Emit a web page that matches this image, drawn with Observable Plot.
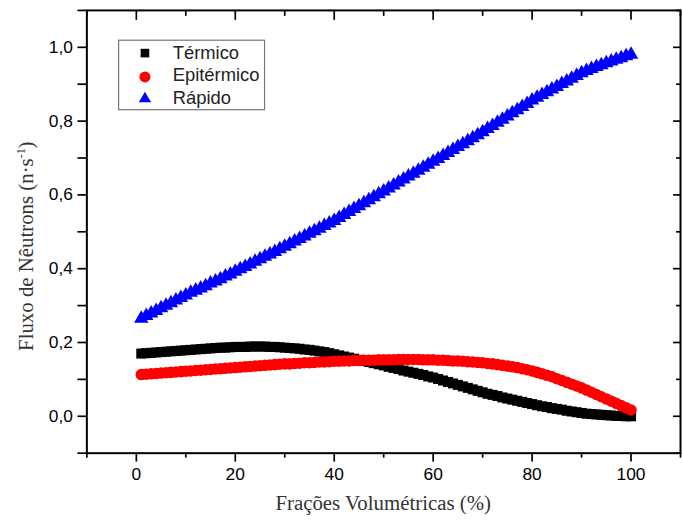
<!DOCTYPE html>
<html>
<head>
<meta charset="utf-8">
<script src="https://cdn.jsdelivr.net/npm/d3@7"></script>
<script src="https://cdn.jsdelivr.net/npm/@observablehq/plot@0.6"></script>
<style>
  html, body { margin: 0; padding: 0; background: white; overflow: hidden; width: 682px; height: 525px; }
  #chart { position: relative; width: 682px; height: 525px; overflow: hidden; }
</style>
</head>
<body>
<div id="chart"></div>
<script>
// ---- Data ----
const fracoes = [
  1,2,3,4,5,6,7,8,9,10,
  11,12,13,14,15,16,17,18,19,20,
  21,22,23,24,25,26,27,28,29,30,
  31,32,33,34,35,36,37,38,39,40,
  41,42,43,44,45,46,47,48,49,50,
  51,52,53,54,55,56,57,58,59,60,
  61,62,63,64,65,66,67,68,69,70,
  71,72,73,74,75,76,77,78,79,80,
  81,82,83,84,85,86,87,88,89,90,
  91,92,93,94,95,96,97,98,99,100
];

const termico = [
  0.170,0.171,0.172,0.173,0.174,0.175,0.176,0.177,0.178,0.179,
  0.180,0.181,0.182,0.183,0.184,0.185,0.186,0.186,0.187,0.188,
  0.188,0.188,0.189,0.189,0.189,0.189,0.188,0.188,0.187,0.186,
  0.185,0.184,0.183,0.181,0.180,0.178,0.176,0.174,0.171,0.168,
  0.165,0.162,0.159,0.156,0.153,0.150,0.147,0.144,0.141,0.138,
  0.134,0.131,0.128,0.124,0.121,0.118,0.115,0.112,0.108,0.105,
  0.101,0.097,0.093,0.089,0.085,0.081,0.077,0.073,0.069,0.065,
  0.061,0.058,0.055,0.051,0.048,0.045,0.042,0.039,0.036,0.033,
  0.030,0.027,0.025,0.022,0.020,0.018,0.015,0.013,0.011,0.009,
  0.007,0.006,0.005,0.004,0.003,0.002,0.001,0.001,0.000,0.000
];

const epitermico = [
  0.113,0.114,0.115,0.116,0.117,0.118,0.119,0.120,0.121,0.122,
  0.123,0.124,0.125,0.126,0.127,0.128,0.129,0.130,0.131,0.132,
  0.133,0.134,0.135,0.136,0.137,0.138,0.139,0.140,0.141,0.142,
  0.142,0.143,0.144,0.145,0.145,0.146,0.147,0.147,0.148,0.149,
  0.149,0.150,0.150,0.151,0.151,0.152,0.152,0.152,0.153,0.153,
  0.153,0.153,0.154,0.154,0.154,0.154,0.154,0.153,0.153,0.153,
  0.152,0.152,0.151,0.150,0.150,0.149,0.148,0.147,0.146,0.145,
  0.143,0.142,0.140,0.138,0.136,0.134,0.132,0.129,0.126,0.123,
  0.119,0.115,0.111,0.107,0.102,0.097,0.092,0.087,0.082,0.077,
  0.071,0.065,0.059,0.053,0.047,0.041,0.035,0.029,0.023,0.017
];

const rapido = [
  0.265,0.272,0.279,0.286,0.293,0.300,0.307,0.314,0.321,0.328,
  0.335,0.341,0.347,0.353,0.360,0.366,0.372,0.379,0.385,0.392,
  0.399,0.405,0.412,0.419,0.426,0.433,0.439,0.446,0.453,0.460,
  0.467,0.474,0.481,0.488,0.495,0.502,0.509,0.516,0.523,0.530,
  0.538,0.546,0.554,0.562,0.570,0.578,0.586,0.594,0.602,0.610,
  0.618,0.626,0.634,0.642,0.650,0.658,0.666,0.674,0.682,0.690,
  0.698,0.706,0.714,0.722,0.730,0.738,0.746,0.754,0.762,0.770,
  0.779,0.787,0.796,0.804,0.813,0.822,0.830,0.839,0.847,0.856,
  0.864,0.871,0.879,0.886,0.893,0.901,0.908,0.915,0.923,0.930,
  0.936,0.942,0.947,0.952,0.957,0.962,0.967,0.971,0.976,0.980
];

const seriesNames = ["Térmico", "Epitérmico", "Rápido"];
const seriesColors = ["#000000", "#ff0000", "#0000ff"];
const seriesSymbols = ["square", "circle", "triangle"];

const xMajorTicks = [0, 20, 40, 60, 80, 100];
const xMinorTicks = [-10, 10, 30, 50, 70, 90, 110];
const yMajorTicks = [0.0, 0.2, 0.4, 0.6, 0.8, 1.0];
const yMinorTicks = [-0.1, 0.1, 0.3, 0.5, 0.7, 0.9, 1.1];

const xTitle = "Frações Volumétricas (%)";
const yTitleMain = "Fluxo de Nêutrons (n·s";
const yTitleSup = "-1";
const yTitleEnd = ")";

// ---- Build tables ----
const tables = [termico, epitermico, rapido].map((vals, i) =>
  fracoes.map((x, j) => ({x, y: vals[j], serie: seriesNames[i]}))
);
const symbolR = [5.7, 5.8, 5.4];

const fmt = d => d.toFixed(1).replace(".", ",");
const tickFont = "Liberation Sans, Arial, Helvetica, sans-serif";
const sw = 1.7;

const chart = Plot.plot({
  width: 687,
  height: 525,
  marginLeft: 87,
  marginRight: 2,
  marginTop: 10,
  marginBottom: 69,
  x: {domain: [-10, 110]},
  y: {domain: [-0.1, 1.1]},
  style: {background: "white", color: "black", fontFamily: tickFont, fontSize: "17px", overflow: "visible"},
  marks: [
    // bottom axis
    Plot.axisX({ticks: xMajorTicks, tickSize: 9, tickPadding: 6, tickFormat: d => String(d), label: null, strokeWidth: sw, fontSize: 17.5}),
    Plot.axisX({ticks: xMinorTicks, tickSize: 5, tickFormat: () => "", label: null, strokeWidth: sw}),
    // top axis (inward ticks)
    Plot.axisX({anchor: "top", ticks: xMajorTicks, tickSize: 9, dy: 9, tickFormat: () => "", label: null, strokeWidth: sw}),
    Plot.axisX({anchor: "top", ticks: xMinorTicks, tickSize: 5, dy: 5, tickFormat: () => "", label: null, strokeWidth: sw}),
    // left axis
    Plot.axisY({ticks: yMajorTicks, tickSize: 9, tickPadding: 5, tickFormat: fmt, label: null, strokeWidth: sw, fontSize: 17.5}),
    Plot.axisY({ticks: yMinorTicks, tickSize: 9, tickFormat: () => "", label: null, strokeWidth: sw}),
    // right axis (inward ticks)
    Plot.axisY({anchor: "right", ticks: yMajorTicks, tickSize: 8, dx: -8, tickFormat: () => "", label: null, strokeWidth: sw}),
    Plot.axisY({anchor: "right", ticks: yMinorTicks, tickSize: 5, dx: -5, tickFormat: () => "", label: null, strokeWidth: sw}),
    Plot.frame({stroke: "black", strokeWidth: 2}),
    // data
    ...tables.map((t, i) => Plot.dot(t, {
      x: "x", y: "y", r: symbolR[i], symbol: () => seriesSymbols[i],
      fill: seriesColors[i], stroke: "none"
    }))
  ]
});

document.getElementById("chart").appendChild(chart);

// ---- Axis titles and legend (real SVG text) ----
const svg = d3.select(chart);
const xs = chart.scale("x");
const xMid = (xs.range[0] + xs.range[1]) / 2;

svg.append("text")
  .attr("x", xMid).attr("y", 514)
  .attr("text-anchor", "middle")
  .attr("font-family", "Liberation Serif, Times New Roman, serif")
  .attr("font-size", 21)
  .attr("fill", "#333")
  .text(xTitle);

const yt = svg.append("text")
  .attr("transform", "translate(33,248) rotate(-90)")
  .attr("text-anchor", "middle")
  .attr("font-family", "Liberation Serif, Times New Roman, serif")
  .attr("font-size", 21)
  .attr("fill", "#333");
yt.append("tspan").text(yTitleMain);
yt.append("tspan").attr("dy", -8).attr("font-size", 12).text(yTitleSup);
yt.append("tspan").attr("dy", 8).text(yTitleEnd);

// legend
const lg = svg.append("g");
lg.append("rect")
  .attr("x", 119.5).attr("y", 40.5).attr("width", 147).attr("height", 70)
  .attr("fill", "white").attr("stroke", "#777").attr("stroke-width", 1.2);
const rowY = [53.5, 77.5, 99.5];
const baseY = [59.5, 82, 105];
const d3sym = {square: d3.symbolSquare, circle: d3.symbolCircle, triangle: d3.symbolTriangle};
const legR = [4.9, 5.6, 4.6];
seriesNames.forEach((name, i) => {
  lg.append("path")
    .attr("transform", `translate(146,${rowY[i]})`)
    .attr("d", d3.symbol(d3sym[seriesSymbols[i]], Math.PI * legR[i] * legR[i])())
    .attr("fill", seriesColors[i]);
  lg.append("text")
    .attr("x", 174).attr("y", baseY[i])
    .attr("text-anchor", "start")
    .attr("font-family", tickFont)
    .attr("font-size", 18.5)
    .attr("fill", "#222")
    .text(name);
});
</script>
</body>
</html>
